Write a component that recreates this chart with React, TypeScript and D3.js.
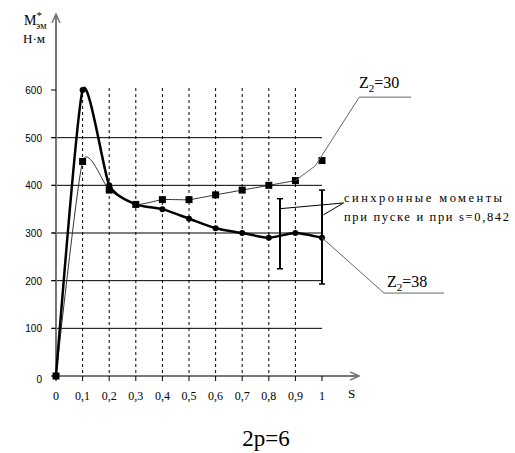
import React, { useEffect, useRef } from 'react';
import * as d3 from 'd3';

// slip values
const slip = [0, 0.1, 0.2, 0.3, 0.4, 0.5, 0.6, 0.7, 0.8, 0.9, 1];
// torque, N·m
const torqueZ38 = [0, 600, 400, 360, 350, 330, 310, 300, 290, 300, 290];
const torqueZ30 = [0, 450, 390, 360, 370, 370, 380, 390, 400, 410, 452];

const yTicks = [0, 100, 200, 300, 400, 500, 600];
const yGrid = [100, 200, 300, 400, 500];
const xTicks = [0, 0.1, 0.2, 0.3, 0.4, 0.5, 0.6, 0.7, 0.8, 0.9, 1];
const xDashed = [0.1, 0.2, 0.3, 0.4, 0.5, 0.6, 0.7, 0.8, 0.9];

// synchronous moments: at start (s=1) and at s=0,842
const bracketS = [0.842, 1];
const bracketLow = [225, 193];
const bracketHigh = [372, 390];

const SERIF = 'Liberation Serif';
const SANS = 'Liberation Sans';

const App = () => {
  const svgRef = useRef<SVGSVGElement>(null);

  useEffect(() => {
    const svg = d3.select(svgRef.current);
    svg.selectAll('*').remove();

    const x = d3.scaleLinear().domain([0, 1]).range([56, 322]);
    const y = d3.scaleLinear().domain([0, 600]).range([376, 90]);
    const fmt = (d: number) => String(d).replace('.', ',');

    const defs = svg.append('defs');
    defs.append('marker')
      .attr('id', 'arr')
      .attr('viewBox', '0 0 10 10')
      .attr('refX', 9).attr('refY', 5)
      .attr('markerWidth', 5).attr('markerHeight', 5)
      .attr('orient', 'auto')
      .append('path')
      .attr('d', 'M0,1 L9,5 L0,9')
      .attr('fill', 'none')
      .attr('stroke', '#777')
      .attr('stroke-width', 1.5);

    // horizontal grid
    svg.append('g').selectAll('line').data(yGrid).join('line')
      .attr('x1', 52).attr('x2', x(1))
      .attr('y1', d => y(d)).attr('y2', d => y(d))
      .attr('stroke', '#000').attr('stroke-width', 1);

    // dashed verticals
    svg.append('g').selectAll('line').data(xDashed).join('line')
      .attr('x1', d => x(d)).attr('x2', d => x(d))
      .attr('y1', 88).attr('y2', y(0))
      .attr('stroke', '#000').attr('stroke-width', 1)
      .attr('stroke-dasharray', '3,3');

    // axes
    svg.append('line')
      .attr('x1', 52).attr('x2', 359).attr('y1', y(0)).attr('y2', y(0))
      .attr('stroke', '#777').attr('stroke-width', 2).attr('marker-end', 'url(#arr)');
    svg.append('line')
      .attr('x1', x(0)).attr('x2', x(0)).attr('y1', 380).attr('y2', 14)
      .attr('stroke', '#777').attr('stroke-width', 2).attr('marker-end', 'url(#arr)');

    svg.append('g').selectAll('line').data(yTicks).join('line')
      .attr('x1', 51).attr('x2', x(0))
      .attr('y1', d => y(d)).attr('y2', d => y(d))
      .attr('stroke', '#000');
    svg.append('g').selectAll('line').data(xTicks).join('line')
      .attr('x1', d => x(d)).attr('x2', d => x(d))
      .attr('y1', y(0)).attr('y2', y(0) + 5)
      .attr('stroke', '#000');

    svg.append('g').selectAll('text').data(yTicks).join('text')
      .attr('x', 42).attr('y', d => y(d) + 4 + (d === 0 ? 3 : 0))
      .attr('text-anchor', 'end')
      .attr('font-family', SANS).attr('font-size', 10)
      .text(d => d);

    svg.append('g').selectAll('text').data(xTicks).join('text')
      .attr('x', d => x(d)).attr('y', 400)
      .attr('text-anchor', 'middle')
      .attr('font-family', SERIF).attr('font-size', 12)
      .text(d => fmt(d));

    svg.append('text').attr('x', 348).attr('y', 398)
      .attr('font-family', SERIF).attr('font-size', 13).text('S');

    const yl = svg.append('text').attr('x', 24).attr('y', 25)
      .attr('font-family', SERIF).attr('font-size', 14);
    yl.append('tspan').text('M');
    yl.append('tspan').attr('dy', -6).attr('font-size', 11).text('*');
    yl.append('tspan').attr('dx', -6).attr('dy', 10).attr('font-size', 10).text('эм');
    svg.append('text').attr('x', 23).attr('y', 43)
      .attr('font-family', SERIF).attr('font-size', 13).text('Н·м');

    const idx = d3.range(slip.length);
    const curve = d3.curveCardinal.tension(0.4);

    const line30 = d3.line<number>().x(i => x(slip[i])).y(i => y(torqueZ30[i])).curve(curve);
    const line38 = d3.line<number>().x(i => x(slip[i])).y(i => y(torqueZ38[i])).curve(curve);

    svg.append('path').attr('d', line30(idx.slice(0, 10)))
      .attr('fill', 'none').attr('stroke', '#333').attr('stroke-width', 1);
    svg.append('path').attr('d', line38(idx))
      .attr('fill', 'none').attr('stroke', '#000').attr('stroke-width', 2.5);

    svg.append('g').selectAll('rect').data(idx).join('rect')
      .attr('x', i => x(slip[i]) - 3.5).attr('y', i => y(torqueZ30[i]) - 3.5)
      .attr('width', 7).attr('height', 7).attr('fill', '#000');
    svg.append('g').selectAll('circle').data(idx).join('circle')
      .attr('cx', i => x(slip[i])).attr('cy', i => y(torqueZ38[i]))
      .attr('r', 3).attr('fill', '#000');

    // brackets
    bracketS.forEach((s, i) => {
      const g = svg.append('g').attr('stroke', '#000').attr('stroke-width', 2);
      g.append('line').attr('x1', x(s)).attr('x2', x(s))
        .attr('y1', y(bracketLow[i])).attr('y2', y(bracketHigh[i]));
      [bracketLow[i], bracketHigh[i]].forEach(v => {
        g.append('line').attr('x1', x(s) - 3).attr('x2', x(s) + 3)
          .attr('y1', y(v)).attr('y2', y(v)).attr('stroke-width', 1.5);
      });
    });

    // leaders
    const lead = d3.line<[number, number]>().x(d => x(d[0])).y(d => y(d[1]));
    const leadStyle = (p: any) => p.attr('fill', 'none').attr('stroke', '#666').attr('stroke-width', 1);
    svg.append('path').attr('d', lead([[0.9, 410], [0.975, 441], [1.14, 585], [1.335, 585]])).call(leadStyle);
    svg.append('path').attr('d', lead([[1, 290], [1.233, 174], [1.459, 174]])).call(leadStyle);
    svg.append('path').attr('d', lead([[1.081, 363], [0.842, 351]])).call(leadStyle).attr('stroke', '#000');
    svg.append('path').attr('d', lead([[1.081, 363], [1.005, 338]])).call(leadStyle).attr('stroke', '#000');

    const zl = (tx: number, ty: number, label: string) => {
      const t = svg.append('text').attr('x', tx).attr('y', ty)
        .attr('font-family', SERIF).attr('font-size', 16);
      t.append('tspan').text('Z');
      t.append('tspan').attr('dy', 4).attr('font-size', 11).text('2');
      t.append('tspan').attr('dy', -4).text(label);
    };
    zl(359, 88, '=30');
    zl(387, 287, '=38');

    svg.append('text').attr('x', 344).attr('y', 202)
      .attr('textLength', 158).attr('lengthAdjust', 'spacing')
      .attr('font-family', SERIF).attr('font-size', 12.5).text('синхронные моменты');
    svg.append('text').attr('x', 344).attr('y', 221)
      .attr('textLength', 165).attr('lengthAdjust', 'spacing')
      .attr('font-family', SERIF).attr('font-size', 12.5).text('при пуске и при s=0,842');

    svg.append('text').attr('x', 266).attr('y', 446).attr('text-anchor', 'middle')
      .attr('font-family', SERIF).attr('font-size', 23).text('2p=6');
  }, []);

  return (
    <svg ref={svgRef} width={515} height={453}
      style={{ position: 'absolute', left: 0, top: 0, background: '#fff' }} />
  );
};

export default App;
